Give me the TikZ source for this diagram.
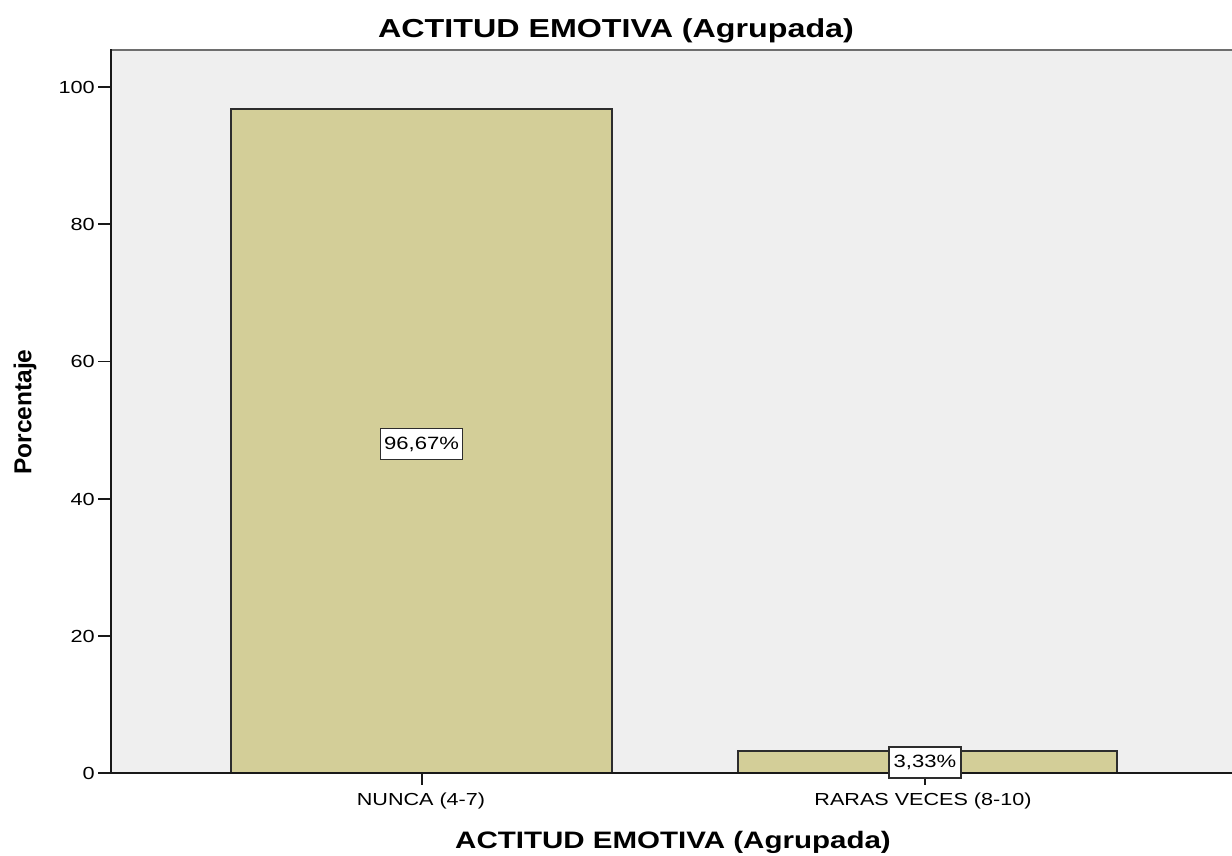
\documentclass[tikz,border=0pt]{standalone}
\usepackage{fontspec}
\setmainfont{Liberation Sans}
\newfontfamily\chartfont{Liberation Sans}[FakeStretch=1.24]
\definecolor{plotbg}{RGB}{239,239,239}
\definecolor{barfill}{RGB}{211,206,152}
\definecolor{edgecol}{RGB}{45,45,45}
\definecolor{topline}{RGB}{110,110,110}
\begin{document}
\begin{tikzpicture}[x=1pt,y=-1pt,
  barbox/.style={fill=barfill,draw=edgecol,line width=2pt},
  axisline/.style={draw=black!90,line width=2pt},
  tickline/.style={draw=black!90,line width=1.8pt},
  ticklabel/.style={font=\chartfont\fontsize{17.5}{20}\selectfont,inner sep=0pt},
  catlabel/.style={font=\chartfont\fontsize{17.4}{20}\selectfont,inner sep=0pt,anchor=base},
  titlelabel/.style={font=\chartfont\bfseries\fontsize{26}{30}\selectfont,inner sep=0pt,anchor=base},
  axistitle/.style={font=\chartfont\bfseries\fontsize{23.8}{28}\selectfont,inner sep=0pt,anchor=base},
  pctbox/.style={draw=edgecol,line width=1.8pt,fill=white,inner sep=0pt,minimum height=31pt,font=\chartfont\fontsize{17.8}{20}\selectfont}
]
\useasboundingbox (0,0) rectangle (1232,855);
% plot area
\fill[plotbg] (111,50) rectangle (1232,773);
\draw[topline,line width=2.5pt] (111,50) -- (1232,50);
% bars
\draw[barbox] (231,773) rectangle (612,109);
\draw[barbox] (738,773) rectangle (1117,751);
% axes
\draw[axisline] (111,49) -- (111,774);
\draw[axisline] (110,773) -- (1232,773);
% y ticks
\foreach \v in {0,20,40,60,80,100}{
  \pgfmathsetmacro{\yy}{773-\v*6.86}
  \coordinate (t\v) at (111,\yy);
  \coordinate (s\v) at (98,\yy);
  \draw[tickline] (t\v) -- (s\v);
  \node[ticklabel,anchor=base east] (l\v) at (95,\yy+6.5) {\v};
}
% x ticks
\coordinate (xa) at (422,773);
\coordinate (xab) at (422,785);
\coordinate (xb) at (925,773);
\coordinate (xbb) at (925,785);
\draw[tickline] (xa) -- (xab);
\draw[tickline] (xb) -- (xbb);
\node[catlabel] (ca) at (421,805.5) {NUNCA (4-7)};
\node[catlabel] (cb) at (923,805.5) {RARAS VECES (8-10)};
% value labels
\node[pctbox,minimum width=82pt] (pa) at (421.5,444) {96,67\%};
\node[pctbox,minimum width=72pt] (pb) at (925,762.5) {3,33\%};
% titles
\node[titlelabel] (title) at (616,37) {ACTITUD EMOTIVA (Agrupada)};
\node[axistitle] (xtitle) at (673,848) {ACTITUD EMOTIVA (Agrupada)};
\node[font=\bfseries\fontsize{24.5}{28}\selectfont,rotate=90,inner sep=0pt] (ytitle) at (25,412) {Porcentaje};
\end{tikzpicture}
\end{document}
